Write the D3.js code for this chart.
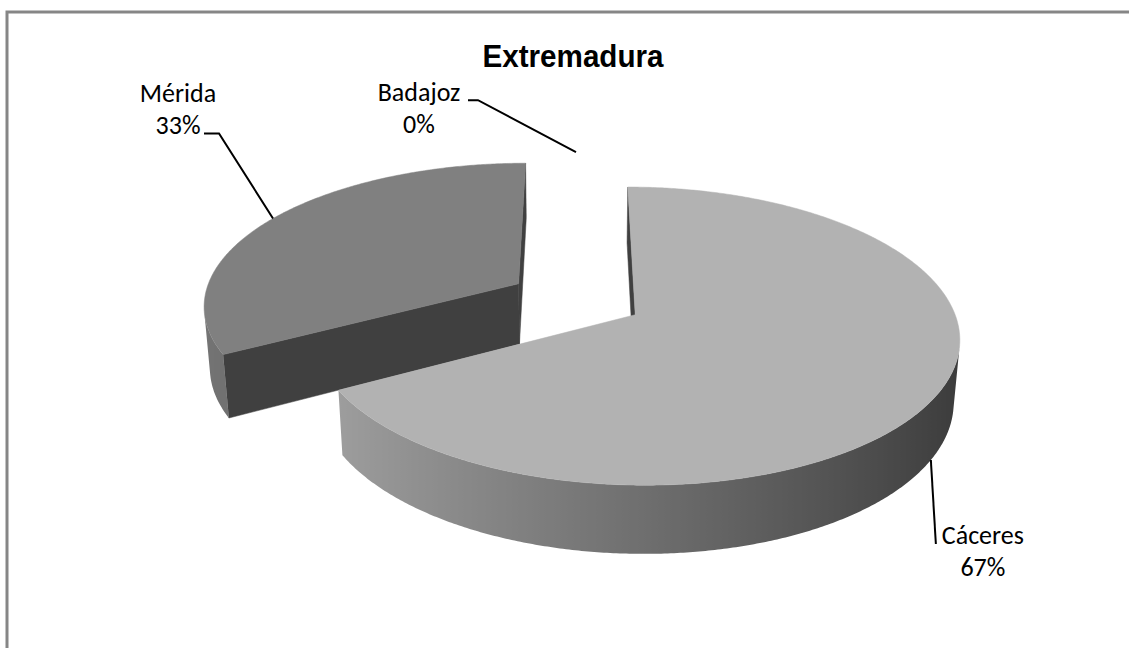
<!DOCTYPE html>
<html>
<head>
<meta charset="utf-8">
<script src="https://cdn.jsdelivr.net/npm/d3@7"></script>
<style>
  body { margin: 0; background: #fff; }
  svg { display: block; }
</style>
</head>
<body>
<div id="chart"></div>
<script>
// data
var categories = ["Cáceres", "Mérida", "Badajoz"];
var values = [67, 33, 0];
var topColors = ["#b2b2b2", "#808080", "#5a5a5a"];
var titleText = "Extremadura";

var width = 1129, height = 648;

// 3d view settings (world radius = 1)
var cx = 576, cy = 299;
var scale = 315;
var dist = 6.33;
var tilt = 26.7 * Math.PI / 180;
var thick = 0.22;
var explode = 0.215;

function project(X, Y, Z){
  var zr = Z * Math.cos(tilt) + Y * Math.sin(tilt);
  var yr = Y * Math.cos(tilt) - Z * Math.sin(tilt);
  var f = dist / (dist - zr);
  return [cx + scale * X * f, cy - scale * yr * f, zr];
}
var cam = [0, dist * Math.sin(tilt), dist * Math.cos(tilt)];

// point on slice rim, angle clockwise from the back (12 o'clock)
function rim(a, r, y, off){
  return [off[0] + r * Math.sin(a), y, off[1] - r * Math.cos(a)];
}
function visible(n, p){
  return n[0]*(cam[0]-p[0]) + n[1]*(cam[1]-p[1]) + n[2]*(cam[2]-p[2]) > 0;
}
function shade(hex, k){
  var c = d3.rgb(hex);
  return d3.rgb(c.r*k, c.g*k, c.b*k).formatHex();
}
function xy(p){ var q = project(p[0], p[1], p[2]); return [q[0], q[1]]; }

var svg = d3.select("#chart").append("svg")
  .attr("width", width)
  .attr("height", height);
var defs = svg.append("defs");

svg.append("rect")
  .attr("x", 7).attr("y", 12)
  .attr("width", width + 20).attr("height", height + 20)
  .style("fill", "#fff")
  .style("stroke", "#868686")
  .style("stroke-width", 3);

svg.append("text")
  .attr("x", 573).attr("y", 67)
  .attr("text-anchor", "middle")
  .attr("textLength", 181)
  .attr("lengthAdjust", "spacingAndGlyphs")
  .style("font-family", "'Liberation Sans', Arial, sans-serif")
  .style("font-weight", "bold")
  .style("font-size", "31px")
  .text(titleText);

var total = d3.sum(values);
var pie = d3.pie().sort(null).startAngle(0).endAngle(2 * Math.PI);
var arcs = pie(values);

var line = d3.line();
var g = svg.append("g");

var slices = arcs.map(function(d, i){
  var mid = (d.startAngle + d.endAngle) / 2;
  var off = [explode * Math.sin(mid), -explode * Math.cos(mid)];
  return {d: d, i: i, mid: mid, off: off};
});
// back to front
slices.sort(function(a, b){ return a.off[1] - b.off[1]; });

slices.forEach(function(s){
  var d = s.d;
  if(d.endAngle - d.startAngle <= 0) return;
  var steps = Math.max(2, Math.ceil((d.endAngle - d.startAngle) / (Math.PI / 360)));
  var da = (d.endAngle - d.startAngle) / steps;

  // cut faces
  [[d.startAngle, -1], [d.endAngle, 1]].forEach(function(c){
    var a = c[0];
    var n = c[1] < 0 ? [-Math.cos(a), 0, -Math.sin(a)] : [Math.cos(a), 0, Math.sin(a)];
    var o0 = [s.off[0], 0, s.off[1]], o1 = [s.off[0], -thick, s.off[1]];
    var r0 = rim(a, 1, 0, s.off), r1 = rim(a, 1, -thick, s.off);
    var pm = [(o0[0]+r0[0])/2, -thick/2, (o0[2]+r0[2])/2];
    if(!visible(n, pm)) return;
    g.append("path")
      .attr("d", line([o0, r0, r1, o1].map(xy)) + "Z")
      .style("fill", "#404040")
      .style("stroke", "#404040")
      .style("stroke-width", 0.5);
  });

  // outer wall: group visible pieces into runs
  var runs = [], cur = null;
  for(var k = 0; k < steps; k++){
    var a1 = d.startAngle + k * da, am = a1 + da / 2;
    var n = [Math.sin(am), 0, -Math.cos(am)];
    if(visible(n, rim(am, 1, -thick / 2, s.off))){
      if(!cur){ cur = []; runs.push(cur); }
      cur.push(a1);
    }else{
      cur = null;
    }
  }
  runs.forEach(function(run, ri){
    var angs = run.concat([run[run.length - 1] + da]);
    var topPts = angs.map(function(a){ return xy(rim(a, 1, 0, s.off)); });
    var botPts = angs.map(function(a){ return xy(rim(a, 1, -thick, s.off)); }).reverse();
    var xs = topPts.map(function(p){ return p[0]; });
    var x0 = d3.min(xs), x1 = d3.max(xs);
    var id = "wall" + s.i + "_" + ri;
    var grad = defs.append("linearGradient")
      .attr("id", id)
      .attr("gradientUnits", "userSpaceOnUse")
      .attr("x1", x0).attr("y1", 0).attr("x2", x1).attr("y2", 0);
    var stops = angs.map(function(a, j){
      return {o: (xs[j] - x0) / Math.max(1, x1 - x0), c: shade(topColors[s.i], 0.62 - 0.3 * Math.sin(a))};
    }).sort(function(p, q){ return p.o - q.o; });
    stops.forEach(function(st){
      grad.append("stop").attr("offset", st.o).attr("stop-color", st.c);
    });
    g.append("path")
      .attr("d", line(topPts.concat(botPts)) + "Z")
      .style("fill", "url(#" + id + ")");
  });

  // top
  var top = [xy([s.off[0], 0, s.off[1]])];
  for(var k = 0; k <= steps; k++){
    top.push(xy(rim(d.startAngle + k * da, 1, 0, s.off)));
  }
  g.append("path")
    .attr("d", line(top) + "Z")
    .style("fill", topColors[s.i])
    .style("stroke", topColors[s.i])
    .style("stroke-width", 0.5);
});

// data labels with leader lines, offsets from the anchor on the slice
var labelFont = "Carlito, Calibri, 'Open Sans', sans-serif";
var labelSpec = [
  {y: -thick, tx: 52,   ty: 84,   leader: [[5, 84]]},
  {y: 0,      tx: -95,  ty: -116, leader: [[-54, -85], [-69, -85]]},
  {y: 0,      tx: -157, ty: -51,  leader: [[-98, -52], [-108, -52]]}
];
slices.forEach(function(s){
  var spec = labelSpec[s.i];
  var ang = s.d.value > 0 ? s.mid : s.d.startAngle;
  var a = xy(rim(ang, 1, spec.y, s.off));
  var pct = Math.round(values[s.i] / total * 100) + "%";
  var pts = [a].concat(spec.leader.map(function(p){ return [a[0] + p[0], a[1] + p[1]]; }));
  svg.append("path")
    .attr("d", line(pts))
    .style("fill", "none")
    .style("stroke", "#000")
    .style("stroke-width", 2);
  var lbl = svg.append("text")
    .attr("text-anchor", "middle")
    .style("font-family", labelFont)
    .style("font-size", "26px")
    .style("fill", "#000");
  lbl.append("tspan").attr("x", a[0] + spec.tx).attr("y", a[1] + spec.ty).text(categories[s.i]);
  lbl.append("tspan").attr("x", a[0] + spec.tx).attr("y", a[1] + spec.ty + 32).text(pct);
});
</script>
</body>
</html>
